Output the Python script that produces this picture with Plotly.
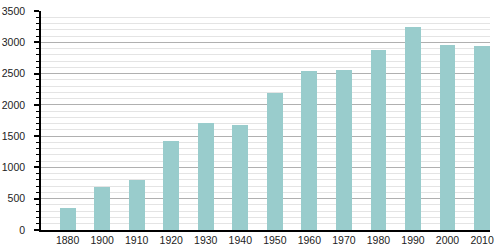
import plotly.graph_objects as go

years = ["1880", "1900", "1910", "1920", "1930", "1940", "1950",
         "1960", "1970", "1980", "1990", "2000", "2010"]
population = [357, 687, 799, 1422, 1710, 1678, 2194,
              2541, 2557, 2877, 3244, 2957, 2941]
y_ticks = [0, 500, 1000, 1500, 2000, 2500, 3000, 3500]

fig = go.Figure(go.Bar(
    x=years, y=population, width=0.46,
    marker=dict(color="#99cccc", line=dict(width=0)),
))

fig.update_layout(
    width=500, height=250,
    margin=dict(l=41, r=10, t=11, b=20),
    paper_bgcolor="white", plot_bgcolor="white",
    font=dict(family="Liberation Sans, Arial, sans-serif", size=10.5, color="#222"),
    showlegend=False,
    bargap=0,
)
fig.update_xaxes(
    type="category", range=[-0.77, 12.23], automargin=False,
    showgrid=False, showline=True, linecolor="black", linewidth=1.5,
    ticks="", zeroline=False, fixedrange=True,
)
fig.update_yaxes(
    range=[0, 3500], tickvals=y_ticks, ticktext=[str(v) for v in y_ticks],
    automargin=False,
    showgrid=True, gridcolor="#b0b0b0", gridwidth=1,
    showline=True, linecolor="black", linewidth=1.5,
    ticks="outside", ticklen=5, tickcolor="black", tickwidth=1.5,
    ticklabelstandoff=7,
    minor=dict(dtick=100, showgrid=True, gridcolor="#e4e4e4", gridwidth=1,
               ticks="outside", ticklen=3, tickcolor="black", tickwidth=1),
    zeroline=False,
)

fig.write_html("out.html")
